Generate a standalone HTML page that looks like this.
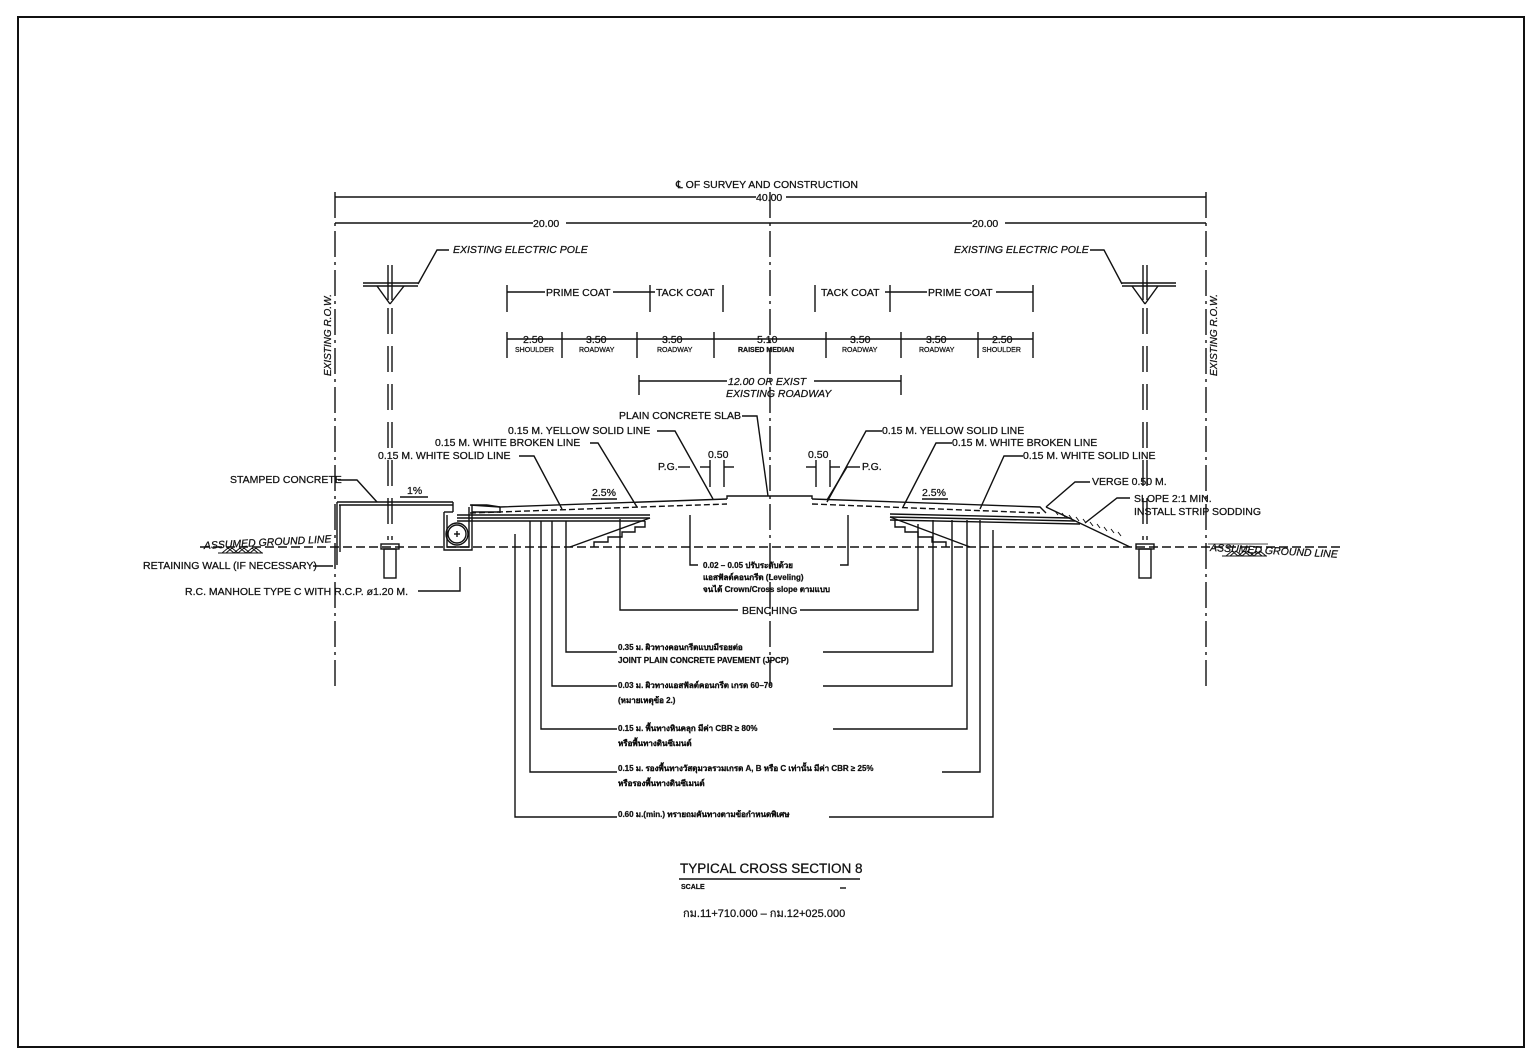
<!DOCTYPE html>
<html><head><meta charset="utf-8"><style>
html,body{margin:0;padding:0;background:#fff}
svg{display:block}
text{font-family:"Liberation Sans","Noto Sans CJK SC",sans-serif;fill:#111;stroke:#111;stroke-width:0.25}
</style></head><body>
<svg width="1540" height="1062" viewBox="0 0 1540 1062" xmlns="http://www.w3.org/2000/svg">
<rect x="0" y="0" width="1540" height="1062" fill="#fff"/>
<rect x="18" y="17" width="1506" height="1030" fill="none" stroke="#111" stroke-width="2"/>
<g stroke="#111" fill="none" stroke-width="1.4">
<line x1="335" y1="192" x2="335" y2="690" stroke-dasharray="26,5,3,5"/>
<line x1="1206" y1="192" x2="1206" y2="690" stroke-dasharray="26,5,3,5"/>
<line x1="770" y1="192" x2="770" y2="690" stroke-dasharray="26,5,3,5"/>
<line x1="335" y1="197" x2="756" y2="197"/><line x1="786" y1="197" x2="1206" y2="197"/>
<line x1="335" y1="223" x2="533" y2="223"/><line x1="566" y1="223" x2="972" y2="223"/><line x1="1005" y1="223" x2="1206" y2="223"/>
<g>
<line x1="388" y1="265" x2="388" y2="300"/><line x1="392" y1="265" x2="392" y2="300"/>
<line x1="363" y1="283" x2="418" y2="283"/><line x1="363" y1="286" x2="418" y2="286"/>
<line x1="377" y1="286" x2="390" y2="304"/><line x1="404" y1="286" x2="390" y2="304"/>
<line x1="388" y1="308" x2="388" y2="540" stroke-dasharray="26,12"/><line x1="392" y1="308" x2="392" y2="540" stroke-dasharray="26,12"/>
<rect x="381" y="544" width="18" height="5"/><rect x="384" y="549" width="12" height="29"/>
<polyline points="418,284 437,250 449,250"/>
</g>
<g>
<line x1="1143" y1="265" x2="1143" y2="300"/><line x1="1147" y1="265" x2="1147" y2="300"/>
<line x1="1122" y1="283" x2="1176" y2="283"/><line x1="1122" y1="286" x2="1176" y2="286"/>
<line x1="1132" y1="286" x2="1145" y2="304"/><line x1="1158" y1="286" x2="1145" y2="304"/>
<line x1="1143" y1="308" x2="1143" y2="540" stroke-dasharray="26,12"/><line x1="1147" y1="308" x2="1147" y2="540" stroke-dasharray="26,12"/>
<rect x="1136" y="544" width="18" height="5"/><rect x="1139" y="549" width="12" height="29"/>
<polyline points="1122,284 1104,250 1090,250"/>
</g>
<line x1="507" y1="292" x2="545" y2="292"/><line x1="613" y1="292" x2="655" y2="292"/>
<line x1="507" y1="285" x2="507" y2="312"/><line x1="650" y1="285" x2="650" y2="312"/><line x1="723" y1="285" x2="723" y2="312"/>
<line x1="815" y1="285" x2="815" y2="312"/><line x1="890" y1="285" x2="890" y2="312"/><line x1="1033" y1="285" x2="1033" y2="312"/>
<line x1="885" y1="292" x2="927" y2="292"/><line x1="996" y1="292" x2="1033" y2="292"/>
<line x1="507" y1="339" x2="1033" y2="339"/>
<g>
<line x1="507" y1="332" x2="507" y2="358"/><line x1="562" y1="332" x2="562" y2="358"/><line x1="637" y1="332" x2="637" y2="358"/><line x1="714" y1="332" x2="714" y2="358"/>
<line x1="826" y1="332" x2="826" y2="358"/><line x1="901" y1="332" x2="901" y2="358"/><line x1="978" y1="332" x2="978" y2="358"/><line x1="1033" y1="332" x2="1033" y2="358"/>
</g>
<line x1="639" y1="381" x2="727" y2="381"/><line x1="814" y1="381" x2="901" y2="381"/>
<line x1="639" y1="375" x2="639" y2="395"/><line x1="901" y1="375" x2="901" y2="395"/>
<line x1="200" y1="547" x2="1340" y2="547" stroke-dasharray="9,4"/>
<polyline points="470,505 500,507 727,499"/>
<polyline points="727,499 727,496 812,496 812,499"/>
<polyline points="812,499 1040,507 1046,513"/>
<line x1="500" y1="507" x2="500" y2="513"/>
<line x1="470" y1="513" x2="727" y2="504" stroke-dasharray="6,3"/>
<line x1="812" y1="504" x2="1040" y2="513" stroke-dasharray="6,3"/>
<line x1="457" y1="515" x2="650" y2="515"/><line x1="457" y1="518" x2="650" y2="518"/><line x1="457" y1="521" x2="645" y2="521"/>
<line x1="890" y1="514" x2="1070" y2="518"/><line x1="890" y1="517" x2="1075" y2="521"/><line x1="890" y1="520" x2="1080" y2="524"/>
<polyline points="650,518 570,547"/>
<polyline points="645,521 645,527 635,527 635,532 622,532 622,537 608,537 608,542 594,542 594,547"/>
<polyline points="890,517 970,547"/>
<polyline points="895,520 895,527 905,527 905,532 918,532 918,537 932,537 932,542 946,542 946,547"/>
<line x1="1046" y1="507" x2="1130" y2="547"/>
<g stroke-width="1">
<path d="M1055,511l3,4m4,-2l3,4m4,-2l3,4m4,-2l3,4m4,-2l3,4m4,-1l3,4m4,-2l3,4m4,-1l3,4m4,-2l3,4m4,-1l3,4"/>
</g>
<line x1="337" y1="502" x2="453" y2="502"/><line x1="339" y1="505" x2="453" y2="505"/>
<line x1="337" y1="502" x2="337" y2="565"/><line x1="340" y1="505" x2="340" y2="552"/>
<line x1="453" y1="502" x2="453" y2="512"/>
<polyline points="444,512 444,550 472,550 472,505 487,505"/>
<polyline points="447,515 447,547 469,547 469,507"/>
<line x1="444" y1="512" x2="453" y2="512"/>
<circle cx="457" cy="534" r="11"/><circle cx="457" cy="534" r="9"/>
<line x1="454" y1="534" x2="460" y2="534"/><line x1="457" y1="531" x2="457" y2="537"/>
<line x1="472" y1="512" x2="500" y2="512"/>
<line x1="487" y1="505" x2="500" y2="507"/>
<polyline points="742,416 757,416 768,496"/>
<polyline points="657,431 675,431 713,499"/>
<polyline points="590,443 598,443 637,507"/>
<polyline points="519,456 534,456 562,509"/>
<polyline points="678,467 690,467"/>
<line x1="710" y1="460" x2="710" y2="487"/><line x1="724" y1="460" x2="724" y2="487"/>
<line x1="700" y1="467" x2="710" y2="467"/><line x1="724" y1="467" x2="734" y2="467"/>
<polyline points="338,480 357,480 377,502"/>
<line x1="400" y1="497" x2="428" y2="497"/>
<line x1="591" y1="499" x2="617" y2="499"/>
<polyline points="313,566 333,566"/>
<polyline points="418,591 460,591 460,567"/>
<polyline points="882,431 866,431 827,502"/>
<polyline points="952,443 936,443 903,507"/>
<polyline points="1023,456 1004,456 980,509"/>
<line x1="816" y1="460" x2="816" y2="487"/><line x1="830" y1="460" x2="830" y2="487"/>
<line x1="806" y1="467" x2="816" y2="467"/><line x1="830" y1="467" x2="840" y2="467"/>
<polyline points="847,467 860,467"/><line x1="847" y1="467" x2="827" y2="500"/>
<line x1="922" y1="499" x2="948" y2="499"/>
<polyline points="1090,482 1075,482 1046,507"/>
<polyline points="1130,498 1117,498 1085,523"/>
<polyline points="690,515 690,565 698,565"/>
<polyline points="848,515 848,565 840,565"/>
<polyline points="620,519 620,610 738,610"/>
<polyline points="918,524 918,610 800,610"/>
<polyline points="566,521 566,652 617,652"/><polyline points="823,652 933,652 933,520"/>
<polyline points="552,521 552,686 617,686"/><polyline points="823,686 952,686 952,520"/>
<polyline points="541,521 541,729 617,729"/><polyline points="833,729 967,729 967,520"/>
<polyline points="530,521 530,772 617,772"/><polyline points="942,772 980,772 980,520"/>
<polyline points="515,534 515,817 617,817"/><polyline points="829,817 993,817 993,530"/>
<line x1="679" y1="879" x2="860" y2="879" stroke-width="1.5"/>
<line x1="840" y1="888" x2="846" y2="888"/>
<path d="M218,553h45M222,553l6,-5l6,5l6,-5l6,5l6,-5l6,5M226,553l6,-5l6,5l6,-5l6,5l6,-5l6,5" stroke-width="1"/>
<path d="M1222,556h45M1226,556l6,-5l6,5l6,-5l6,5l6,-5l6,5M1230,556l6,-5l6,5l6,-5l6,5l6,-5l6,5" stroke-width="1"/>
<line x1="1208" y1="544" x2="1268" y2="544" stroke-width="0.8"/>
</g>
<g font-size="10.5">
<text x="676" y="188">℄ OF SURVEY AND CONSTRUCTION</text>
<text x="756" y="201">40.00</text>
<text x="533" y="227">20.00</text>
<text x="972" y="227">20.00</text>
<text x="453" y="253" font-style="italic">EXISTING ELECTRIC POLE</text>
<text x="954" y="253" font-style="italic">EXISTING ELECTRIC POLE</text>
<text x="546" y="296">PRIME COAT</text>
<text x="656" y="296">TACK COAT</text>
<text x="821" y="296">TACK COAT</text>
<text x="928" y="296">PRIME COAT</text>
<text x="523" y="343">2.50</text><text x="586" y="343">3.50</text><text x="662" y="343">3.50</text>
<text x="757" y="343">5.10</text><text x="850" y="343">3.50</text><text x="926" y="343">3.50</text><text x="992" y="343">2.50</text>
<text x="728" y="385" font-style="italic">12.00 OR EXIST</text>
<text x="726" y="397" font-style="italic">EXISTING ROADWAY</text>
<text x="619" y="419">PLAIN CONCRETE SLAB</text>
<text x="508" y="434">0.15 M. YELLOW SOLID LINE</text>
<text x="435" y="446">0.15 M. WHITE BROKEN LINE</text>
<text x="378" y="459">0.15 M. WHITE SOLID LINE</text>
<text x="882" y="434">0.15 M. YELLOW SOLID LINE</text>
<text x="952" y="446">0.15 M. WHITE BROKEN LINE</text>
<text x="1023" y="459">0.15 M. WHITE SOLID LINE</text>
<text x="708" y="458">0.50</text><text x="808" y="458">0.50</text>
<text x="658" y="470">P.G.</text><text x="862" y="470">P.G.</text>
<text x="230" y="483">STAMPED CONCRETE</text>
<text x="407" y="494">1%</text>
<text x="592" y="496">2.5%</text><text x="922" y="496">2.5%</text>
<text x="1092" y="485">VERGE 0.50 M.</text>
<text x="1134" y="502">SLOPE 2:1 MIN.</text>
<text x="1134" y="515">INSTALL STRIP SODDING</text>
<text x="204" y="549" font-style="italic" transform="rotate(-3 204 549)">ASSUMED GROUND LINE</text>
<text x="1210" y="551" font-style="italic" transform="rotate(3 1210 551)">ASSUMED GROUND LINE</text>
<text x="143" y="569">RETAINING WALL (IF NECESSARY)</text>
<text x="185" y="595">R.C. MANHOLE TYPE C WITH R.C.P. ø1.20 M.</text>
<text x="742" y="614">BENCHING</text>
<text x="680" y="873" font-size="13.5">TYPICAL CROSS SECTION 8</text>
<text x="683" y="917" font-size="11">กม.11+710.000 – กม.12+025.000</text>
</g>
<g font-size="7">
<text x="515" y="352">SHOULDER</text><text x="579" y="352">ROADWAY</text><text x="657" y="352">ROADWAY</text>
<text x="738" y="352" font-weight="bold">RAISED MEDIAN</text><text x="842" y="352">ROADWAY</text><text x="919" y="352">ROADWAY</text><text x="982" y="352">SHOULDER</text>
<text x="681" y="889" font-weight="bold">SCALE</text>
</g>
<g font-size="8" font-weight="bold">
<text x="703" y="568">0.02 – 0.05 ปรับระดับด้วย</text>
<text x="703" y="580">แอสฟัลต์คอนกรีต (Leveling)</text>
<text x="703" y="592">จนได้ Crown/Cross slope ตามแบบ</text>
<text x="618" y="650">0.35 ม. ผิวทางคอนกรีตแบบมีรอยต่อ</text>
<text x="618" y="663">JOINT PLAIN CONCRETE PAVEMENT (JPCP)</text>
<text x="618" y="688">0.03 ม. ผิวทางแอสฟัลต์คอนกรีต เกรด 60–70</text>
<text x="618" y="703">(หมายเหตุข้อ 2.)</text>
<text x="618" y="731">0.15 ม. พื้นทางหินคลุก มีค่า CBR ≥ 80%</text>
<text x="618" y="746">หรือพื้นทางดินซีเมนต์</text>
<text x="618" y="771">0.15 ม. รองพื้นทางวัสดุมวลรวมเกรด A, B หรือ C เท่านั้น มีค่า CBR ≥ 25%</text>
<text x="618" y="786">หรือรองพื้นทางดินซีเมนต์</text>
<text x="618" y="817">0.60 ม.(min.) ทรายถมคันทางตามข้อกำหนดพิเศษ</text>
</g>
<text x="331" y="376" font-size="10" font-style="italic" transform="rotate(-90 331 376)">EXISTING R.O.W.</text>
<text x="1217" y="376" font-size="10" font-style="italic" transform="rotate(-90 1217 376)">EXISTING R.O.W.</text>
</svg>
</body></html>
